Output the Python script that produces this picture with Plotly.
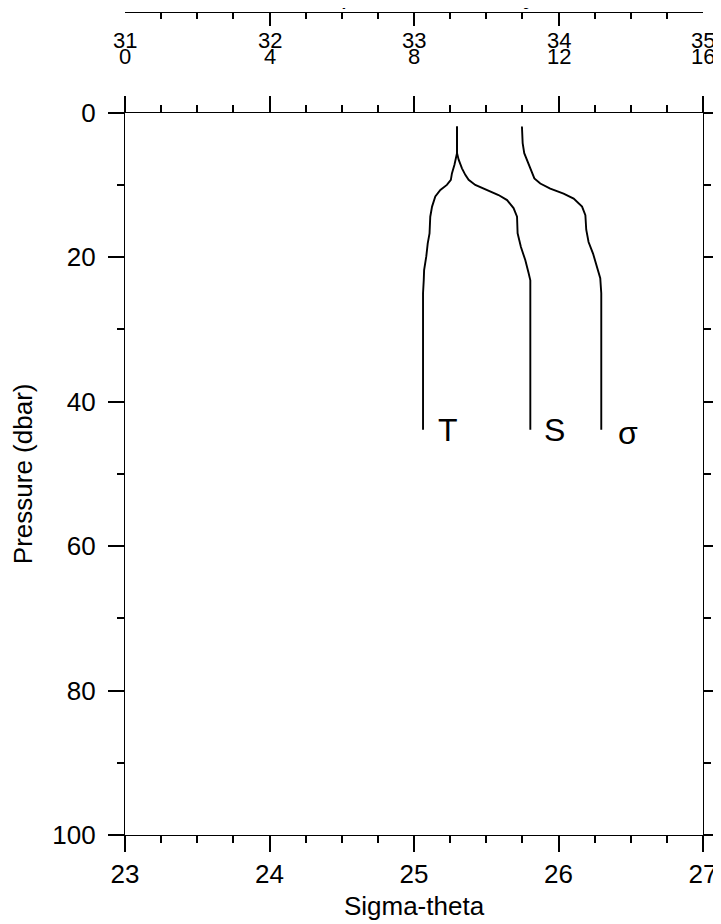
import plotly.graph_objects as go

# ---- data ----
# Temperature profile (deg C) vs pressure (dbar)
temp_p = [1.9, 5.6, 7.2, 8.4, 9.3, 10.0, 10.7, 11.6, 13.0, 14.4, 16.7, 18.1, 19.9, 21.8, 23.2, 25.0, 43.9]
temp_v = [9.19, 9.19, 9.12, 9.05, 9.02, 8.91, 8.73, 8.59, 8.50, 8.45, 8.43, 8.38, 8.34, 8.28, 8.27, 8.25, 8.25]

# Salinity profile vs pressure
sal_p = [1.9, 5.6, 6.5, 7.7, 8.6, 9.3, 10.0, 10.7, 11.4, 12.1, 13.2, 14.4, 16.7, 18.6, 20.4, 22.2, 23.2, 25.5, 43.9]
sal_v = [33.298, 33.298, 33.309, 33.332, 33.355, 33.378, 33.424, 33.505, 33.585, 33.644, 33.689,
         33.713, 33.717, 33.740, 33.770, 33.793, 33.805, 33.805, 33.805]

# Sigma-theta profile vs pressure
sig_p = [1.9, 4.2, 5.6, 7.2, 8.2, 9.1, 9.8, 10.5, 11.2, 11.9, 13.0, 14.2, 16.2, 17.9, 19.5, 21.3, 22.9, 25.0, 43.9]
sig_v = [25.747, 25.752, 25.763, 25.793, 25.817, 25.833, 25.874, 25.943, 26.035, 26.105, 26.163,
         26.186, 26.192, 26.208, 26.239, 26.266, 26.289, 26.296, 26.296]

sal_ticks = [31, 32, 33, 34, 35]
temp_ticks = [0, 4, 8, 12, 16]
sigma_range = [23, 27]
sal_range = [31, 35]
temp_range = [0, 16]
p_range = [100, 0]

FONT = "Liberation Sans, Arial, Helvetica, sans-serif"

fig = go.Figure()
line = dict(color="black", width=1.9)
fig.add_trace(go.Scatter(x=sig_v, y=sig_p, mode="lines", line=line, xaxis="x", yaxis="y", showlegend=False))
fig.add_trace(go.Scatter(x=temp_v, y=temp_p, mode="lines", line=line, xaxis="x3", yaxis="y", showlegend=False))
fig.add_trace(go.Scatter(x=sal_v, y=sal_p, mode="lines", line=line, xaxis="x4", yaxis="y", showlegend=False))

# page has an 8px body margin: figure is drawn offset by (8, 8)
OFF = 8
W, H = 721 - OFF, 924 - OFF
ml = 124.7 - OFF
mr = W - (703 - OFF)
mt = 13 - OFF
mb = H - (835 - OFF)
plot_h = H - mt - mb
main_top = 112.7 - OFF
ydom_top = (H - mb - main_top) / plot_h

def py2paper(page_py):
    return (H - mb - (page_py - OFF)) / plot_h

annotations = []
for s in sal_ticks:
    annotations.append(dict(x=s, y=py2paper(40), xref="x2", yref="paper", text=str(s),
                            showarrow=False, xanchor="center", yanchor="middle",
                            font=dict(size=22, family=FONT, color="black")))
for t in temp_ticks:
    annotations.append(dict(x=t, y=py2paper(56.5), xref="x3", yref="paper", text=str(t),
                            showarrow=False, xanchor="center", yanchor="middle",
                            font=dict(size=22, family=FONT, color="black")))

# curve labels
annotations.append(dict(x=temp_v[-1], y=temp_p[-1], xref="x3", yref="y", text="T", showarrow=False,
                        xanchor="left", yanchor="middle", xshift=13, yshift=0,
                        font=dict(size=32, family=FONT, color="black")))
annotations.append(dict(x=sal_v[-1], y=sal_p[-1], xref="x4", yref="y", text="S", showarrow=False,
                        xanchor="left", yanchor="middle", xshift=12, yshift=0,
                        font=dict(size=32, family=FONT, color="black")))
annotations.append(dict(x=sig_v[-1], y=sig_p[-1], xref="x", yref="y", text="σ", showarrow=False,
                        xanchor="left", yanchor="middle", xshift=15, yshift=-3,
                        font=dict(size=32, family=FONT, color="black")))

# top title (mostly cut off in the reference)
annotations.append(dict(x=0.5, y=py2paper(-4.6), xref="paper", yref="paper",
                        text="Temperature, Salinity", showarrow=False,
                        xanchor="center", yanchor="middle",
                        font=dict(size=26, family=FONT, color="black")))

fig.update_layout(
    width=W, height=H,
    margin=dict(l=ml, r=mr, t=mt, b=mb, autoexpand=False),
    paper_bgcolor="white", plot_bgcolor="white",
    font=dict(family=FONT, color="black", size=26),
    showlegend=False,
    xaxis=dict(
        range=sigma_range, domain=[0, 1], anchor="y", automargin=False,
        showgrid=False, zeroline=False,
        showline=True, linecolor="black", linewidth=1.2, mirror="ticks",
        ticks="outside", ticklen=16, tickwidth=1.5, tickcolor="black",
        tick0=23, dtick=1,
        minor=dict(ticks="outside", ticklen=7, tickwidth=1.5, tickcolor="black", dtick=0.25, showgrid=False),
        tickfont=dict(size=26, family=FONT),
        title=dict(text="Sigma-theta", font=dict(size=26, family=FONT), standoff=8),
    ),
    yaxis=dict(
        range=p_range, domain=[0, ydom_top], anchor="x", automargin=False,
        showgrid=False, zeroline=False,
        showline=True, linecolor="black", linewidth=1.2, mirror="ticks",
        ticks="outside", ticklen=16, tickwidth=1.5, tickcolor="black",
        tick0=0, dtick=20,
        minor=dict(ticks="outside", ticklen=7, tickwidth=1.5, tickcolor="black", dtick=10, showgrid=False),
        tickfont=dict(size=26, family=FONT),
        ticklabelstandoff=7,
        title=dict(text="Pressure (dbar)", font=dict(size=26, family=FONT), standoff=16),
    ),
    xaxis2=dict(
        range=sal_range, domain=[0, 1], anchor="y2", side="top", automargin=False,
        showgrid=False, zeroline=False,
        showline=True, linecolor="black", linewidth=1.2,
        ticks="inside", ticklen=13, tickwidth=1.5, tickcolor="black",
        tick0=31, dtick=1, showticklabels=False,
        minor=dict(ticks="inside", ticklen=6, tickwidth=1.5, tickcolor="black", dtick=0.25, showgrid=False),
    ),
    yaxis2=dict(domain=[0.93, 1], anchor="x2", visible=False, range=[0, 1], automargin=False),
    xaxis3=dict(range=temp_range, overlaying="x", anchor="y", visible=False, automargin=False),
    xaxis4=dict(range=sal_range, overlaying="x", anchor="y", visible=False, automargin=False),
    annotations=annotations,
)

fig.write_html("out.html")
